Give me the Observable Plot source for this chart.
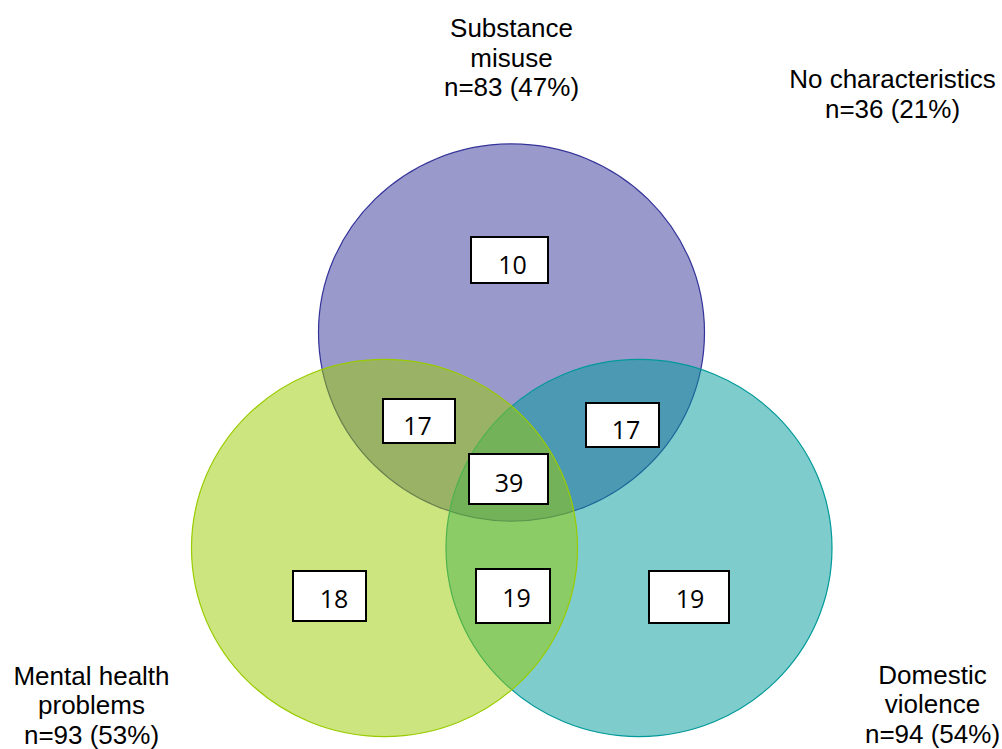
<!DOCTYPE html>
<html><head><meta charset="utf-8">
<script src="https://cdn.jsdelivr.net/npm/d3@7"></script>
<script src="https://cdn.jsdelivr.net/npm/@observablehq/plot@0.6"></script>
<style>
html,body{margin:0;padding:0;background:#fff;}
#chart svg{display:block;}
</style></head><body><div id="chart"></div>
<script>
// ---------- data ----------
const setNames = ["Substance\nmisuse", "Mental health\nproblems", "Domestic\nviolence"];
const setCounts = [83, 93, 94];
const setPercents = [47, 53, 54];
const noneName = "No characteristics";
const noneCount = 36;
const nonePercent = 21;
const regionKeys = ["S", "S∩M", "S∩D", "S∩M∩D", "M", "M∩D", "D"];
const regionCounts = [10, 17, 17, 39, 18, 19, 19];

// ---------- layout (chart units) ----------
const setCenters = [[511, 332], [384, 547.5], [638.5, 547.5]];
const setRadius = 193;
const setAspect = 0.977;
const setColors = ["#333399", "#99cc00", "#009999"];
const drawOrder = [0, 2, 1];
const setLabelAnchors = [[511, 95.5], [91, 743], [932, 742]];
const noneLabelAnchor = [892, 117];
const boxCenters = [[509.5, 260], [419, 421], [622.5, 425], [508.5, 479], [329.5, 596], [513, 596], [689, 597]];
const boxSizes = [[77, 46], [72, 44], [73, 44], [79, 50], [73, 50], [74, 54], [80, 52]];
const numberAnchors = [[512, 273.5], [417, 434], [625.5, 438], [508.5, 491], [333.5, 607.5], [516, 606], [689.5, 607]];

// ---------- tables ----------
const circles = drawOrder.map(i => ({
  key: i, x: setCenters[i][0], y: setCenters[i][1], color: setColors[i]
}));
const setLabels = setNames.map((n, i) => ({
  text: `${n}\nn=${setCounts[i]} (${setPercents[i]}%)`,
  x: setLabelAnchors[i][0], y: setLabelAnchors[i][1]
}));
setLabels.push({text: `${noneName}\nn=${noneCount} (${nonePercent}%)`, x: noneLabelAnchor[0], y: noneLabelAnchor[1]});
const regions = regionKeys.map((k, i) => ({
  key: k, value: regionCounts[i],
  x1: boxCenters[i][0] - boxSizes[i][0] / 2, x2: boxCenters[i][0] + boxSizes[i][0] / 2,
  y1: boxCenters[i][1] - boxSizes[i][1] / 2, y2: boxCenters[i][1] + boxSizes[i][1] / 2,
  tx: numberAnchors[i][0], ty: numberAnchors[i][1]
}));

// ellipse symbol (slightly flattened circles, as in the reference)
const ellipseSymbol = {
  draw(ctx, size) {
    const rx = Math.sqrt(size / Math.PI), ry = rx * setAspect, k = 0.5522847498;
    ctx.moveTo(rx, 0);
    ctx.bezierCurveTo(rx, ry * k, rx * k, ry, 0, ry);
    ctx.bezierCurveTo(-rx * k, ry, -rx, ry * k, -rx, 0);
    ctx.bezierCurveTo(-rx, -ry * k, -rx * k, -ry, 0, -ry);
    ctx.bezierCurveTo(rx * k, -ry, rx, -ry * k, rx, 0);
    ctx.closePath();
  }
};

const chart = Plot.plot({
  width: 1002, height: 749, margin: 0,
  x: {domain: [0, 1002], range: [0, 1002], axis: null},
  y: {domain: [0, 749], range: [0, 749], axis: null},
  style: {background: "#fff"},
  marks: [
    Plot.dot(circles, {
      x: "x", y: "y", r: setRadius, symbol: ellipseSymbol,
      fill: d => d.color, fillOpacity: 0.5,
      stroke: d => d.color, strokeWidth: 1.2
    }),
    Plot.rect(regions, {x1: "x1", x2: "x2", y1: "y1", y2: "y2", fill: "white", stroke: "black", strokeWidth: 2}),
    Plot.text(regions, {
      x: "tx", y: "ty", text: d => String(d.value), lineAnchor: "bottom",
      fontFamily: "'Open Sans', sans-serif", fontSize: 25, fill: "black"
    }),
    Plot.text(setLabels, {
      x: "x", y: "y", text: "text", lineAnchor: "bottom", lineHeight: 1.13,
      fontFamily: "'Liberation Sans', Arial, sans-serif", fontSize: 26, fill: "black"
    })
  ]
});
document.getElementById("chart").append(chart);
</script>
</body></html>
